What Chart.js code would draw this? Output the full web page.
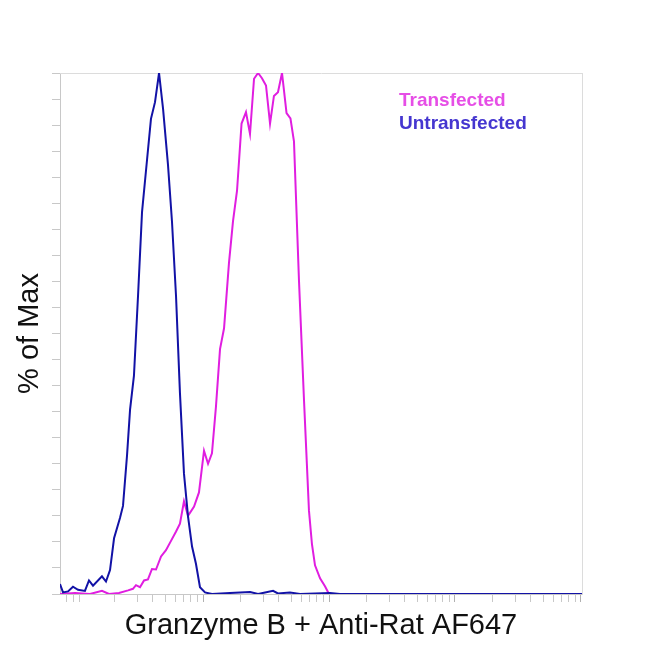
<!DOCTYPE html>
<html>
<head>
<meta charset="utf-8">
<script src="https://cdn.jsdelivr.net/npm/chart.js@4.4.1/dist/chart.umd.min.js"></script>
<style>
  body { margin: 0; background: #fff; }
  #wrap { position: relative; width: 650px; height: 650px; }
  .leg { position: absolute; left: 399px; font: bold 19px "Liberation Sans", Arial, sans-serif; line-height: 23px; white-space: nowrap; }
</style>
</head>
<body>
<div id="wrap">
  <canvas id="chart-histo" width="650" height="650"></canvas>
  <div class="leg" style="top:88px; color:#e64ee6;">Transfected</div>
  <div class="leg" style="top:111px; color:#4536d0;">Untransfected</div>
</div>
<script>
// x in log decades of fluorescence, y in % of max
var untransX = [-0.135, -0.111, -0.071, -0.032, 0.008, 0.063, 0.095, 0.127, 0.198, 0.230, 0.262, 0.294, 0.341, 0.365, 0.397, 0.421, 0.452, 0.484, 0.516, 0.556, 0.587, 0.619, 0.651, 0.683, 0.722, 0.754, 0.786, 0.817, 0.849, 0.881, 0.913, 0.944, 0.976, 1.016, 1.071, 1.214, 1.373, 1.437, 1.556, 1.595, 1.690, 1.770, 2.008, 2.087, 4.008];
var untransY = [1.9, 0.3, 0.5, 1.4, 0.8, 0.6, 2.6, 1.6, 3.4, 2.4, 4.6, 10.7, 14.6, 16.9, 26.6, 35.4, 41.9, 57.1, 73.3, 83.4, 91.2, 94.4, 100, 93.1, 82.4, 71.4, 57.1, 38.6, 23.1, 14.9, 9.1, 5.8, 1.3, 0.3, 0, 0.2, 0.4, 0, 0.6, 0.1, 0.3, 0, 0.2, 0, 0];

var transX = [-0.135, -0.016, 0.103, 0.198, 0.254, 0.333, 0.405, 0.444, 0.468, 0.500, 0.532, 0.563, 0.595, 0.627, 0.667, 0.706, 0.746, 0.786, 0.817, 0.849, 0.881, 0.929, 0.968, 1.008, 1.040, 1.071, 1.103, 1.135, 1.167, 1.206, 1.238, 1.270, 1.306, 1.341, 1.373, 1.405, 1.437, 1.468, 1.500, 1.532, 1.563, 1.595, 1.627, 1.663, 1.694, 1.722, 1.762, 1.802, 1.841, 1.865, 1.889, 1.929, 1.968, 2.000, 4.008];
var transY = [0, 0.2, 0, 0.6, 0, 0.2, 0.7, 1.0, 1.7, 1.3, 2.6, 2.8, 4.8, 4.7, 7.2, 8.4, 10.2, 12, 13.5, 17.8, 15, 16.8, 19.5, 27.5, 25, 27, 36, 47, 51, 63.5, 71.5, 77.4, 90.3, 92.5, 88.3, 98.9, 100, 99, 97.6, 90.3, 95.6, 96.3, 100, 92.3, 91.3, 86.9, 60, 37, 16, 9.5, 5.5, 3, 1.5, 0, 0];

var xMin = -0.135, xMax = 4.008;
// tick marks seen below the axis (linear part near zero, then log decades)
var xTicks = [-0.08, -0.024, 0.016];
for (var d = 0; d < 4; d++) {
    for (var k = 2; k <= 10; k++) xTicks.push(d + Math.log10(k));
}

function pts(xs, ys) {
    return xs.map(function (x, i) { return { x: x, y: ys[i] }; });
}

var tickGray = '#c8c8c8';

var config = {
    type: 'line',
    data: {
        datasets: [{
            label: 'Untransfected',
            data: pts(untransX, untransY),
            borderColor: '#1212a6',
            borderWidth: 2,
            pointRadius: 0,
            tension: 0
        }, {
            label: 'Transfected',
            data: pts(transX, transY),
            borderColor: '#e01ee0',
            borderWidth: 2,
            pointRadius: 0,
            tension: 0
        }]
    },
    options: {
        responsive: false,
        animation: false,
        layout: { padding: { top: 73, right: 68, left: 0, bottom: 0 } },
        plugins: { legend: { display: false }, tooltip: { enabled: false } },
        scales: {
            x: {
                type: 'linear', position: 'bottom', min: xMin, max: xMax,
                afterBuildTicks: function (s) { s.ticks = xTicks.map(function (v) { return { value: v }; }); },
                afterFit: function (s) { s.height = 56; },
                ticks: { display: false },
                grid: {
                    drawOnChartArea: false, drawTicks: true, tickLength: 8,
                    color: function (c) { return c.tick && Number.isInteger(c.tick.value) ? '#b0b0b0' : tickGray; }
                },
                border: { color: tickGray },
                title: {
                    display: true, text: 'Granzyme B + Anti-Rat AF647', color: '#111',
                    font: { family: '"Liberation Sans", Arial, sans-serif', size: 29 },
                    padding: { top: 0, bottom: 7 }
                }
            },
            y: {
                type: 'linear', position: 'left', min: 0, max: 100,
                ticks: { display: false, stepSize: 5 },
                afterFit: function (s) { s.width = 60; },
                grid: { drawOnChartArea: false, drawTicks: true, tickLength: 8, color: tickGray },
                border: { color: tickGray },
                title: {
                    display: true, text: '% of Max', color: '#111',
                    font: { family: '"Liberation Sans", Arial, sans-serif', size: 29 },
                    padding: { top: 13, bottom: 0 }
                }
            },
            xTop: {
                type: 'linear', position: 'top', min: xMin, max: xMax,
                ticks: { display: false },
                grid: { display: false, drawTicks: false },
                border: { color: '#dcdcdc' }
            },
            yRight: {
                type: 'linear', position: 'right', min: 0, max: 100,
                ticks: { display: false },
                grid: { display: false, drawTicks: false },
                border: { color: '#dcdcdc' }
            }
        }
    }
};

var ctx = document.getElementById('chart-histo').getContext('2d');
window.histo = new Chart(ctx, config);
</script>
</body>
</html>
